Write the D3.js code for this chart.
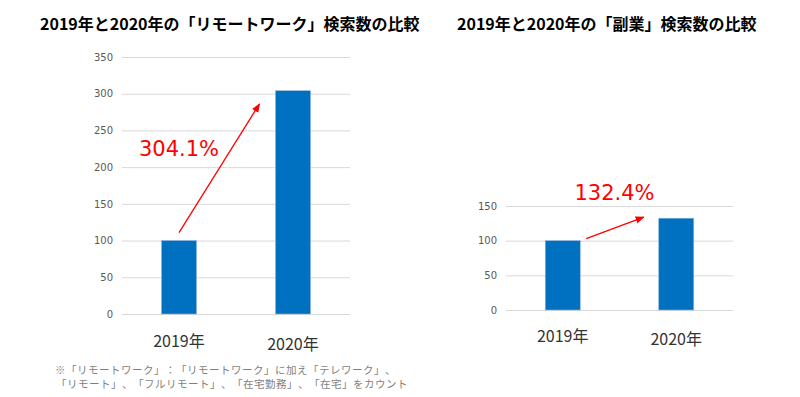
<!DOCTYPE html>
<html>
<head>
<meta charset="utf-8">
<script src="https://cdn.jsdelivr.net/npm/d3@7"></script>
<style>
  body { margin: 0; background: #fff; }
  svg { display: block; font-family: "Noto Sans CJK JP", "Noto Sans", sans-serif; }
  .note { text-spacing-trim: space-all; font-feature-settings: "palt" 0, "halt" 0; }
</style>
</head>
<body>
<svg id="chart" width="800" height="397"></svg>
<script>
const years = ["2019年", "2020年"]
const remoteValues = [100, 304.1]
const sideJobValues = [100, 132.4]
const remoteTicks = [0, 50, 100, 150, 200, 250, 300, 350]
const sideJobTicks = [0, 50, 100, 150]
const remoteLabel = "304.1%"
const sideJobLabel = "132.4%"
const footnote = [
    "※「リモートワーク」：「リモートワーク」に加え「テレワーク」、",
    "「リモート」、「フルリモート」、「在宅勤務」、「在宅」をカウント",
]

const BAR = "#0070c0"
const GRID = "#d9d9d9"
const RED = "#ff0000"

const svg = d3.select("#chart")

svg.append("defs").append("marker")
    .attr("id", "arrow")
    .attr("viewBox", "0 0 10 10")
    .attr("refX", 9).attr("refY", 5)
    .attr("markerWidth", 7).attr("markerHeight", 7)
    .attr("orient", "auto")
    .append("path")
    .attr("d", "M0,1 L10,5 L0,9 z")
    .attr("fill", RED)

function drawPanel(opts) {
    const { title, titleX, values, ticks, left, right, top, bottom, label } = opts
    const x = d3.scalePoint().domain(years).range([left, right]).padding(0.5)
    const y = d3.scaleLinear().domain([0, d3.max(ticks)]).range([bottom, top])
    const g = svg.append("g")

    g.append("text")
        .attr("x", titleX).attr("y", 30)
        .attr("font-size", 16).attr("font-weight", "bold")
        .attr("fill", "#000")
        .text(title)

    // gridlines + tick labels
    g.append("g")
        .attr("transform", `translate(${left},0)`)
        .call(d3.axisLeft(y).tickValues(ticks).tickSize(-(right - left)).tickPadding(9))
        .call((a) => a.select(".domain").remove())
        .call((a) => a.selectAll(".tick line").attr("stroke", GRID).attr("stroke-width", 1))
        .call((a) => a.selectAll(".tick text")
            .attr("fill", "#595959")
            .attr("font-size", 10)
            .attr("font-family", "'DejaVu Sans', sans-serif"))

    const barW = 35
    g.selectAll("rect.bar")
        .data(values)
        .join("rect")
        .attr("class", "bar")
        .attr("x", (d, i) => x(years[i]) - barW / 2)
        .attr("y", (d) => y(d))
        .attr("width", barW)
        .attr("height", (d) => y(0) - y(d))
        .attr("fill", BAR)
        .attr("stroke", "#8fb4de")
        .attr("stroke-width", 0.6)

    g.selectAll("text.year")
        .data(years)
        .join("text")
        .attr("class", "year")
        .attr("x", (d) => x(d))
        .attr("y", (d, i) => bottom + opts.yearDy + i * 2.5)
        .attr("text-anchor", "middle")
        .attr("font-size", 16)
        .attr("fill", "#333")
        .text((d) => d)

    const a = opts.arrow(x, y, barW)
    g.append("line")
        .attr("x1", a[0]).attr("y1", a[1])
        .attr("x2", a[2]).attr("y2", a[3])
        .attr("stroke", RED).attr("stroke-width", 1.3)
        .attr("marker-end", "url(#arrow)")

    const l = opts.labelPos(x, y)
    g.append("text")
        .attr("x", l[0]).attr("y", l[1])
        .attr("text-anchor", "middle")
        .attr("font-size", 21)
        .attr("fill", RED)
        .attr("font-family", "'DejaVu Sans', sans-serif")
        .text(label)
}

drawPanel({
    title: "2019年と2020年の「リモートワーク」検索数の比較",
    titleX: 40,
    values: remoteValues,
    ticks: remoteTicks,
    left: 122, right: 350, top: 57, bottom: 314,
    yearDy: 33,
    label: remoteLabel,
    arrow: (x, y, w) => [x(years[0]), y(remoteValues[0]) - 8, x(years[1]) - w / 2 - 16, y(286)],
    labelPos: (x, y) => [x(years[0]), y(215)],
})

drawPanel({
    title: "2019年と2020年の「副業」検索数の比較",
    titleX: 457,
    values: sideJobValues,
    ticks: sideJobTicks,
    left: 506, right: 733, top: 206, bottom: 310,
    yearDy: 32,
    label: sideJobLabel,
    arrow: (x, y, w) => [x(years[0]) + w / 2 + 6, y(sideJobValues[0]) - 2, x(years[1]) - w / 2 - 15, y(134)],
    labelPos: (x, y) => [(x(years[0]) + x(years[1])) / 2 - 5, y(158)],
})

svg.append("g")
    .selectAll("text")
    .data(footnote)
    .join("text")
    .attr("class", "note")
    .attr("x", (d, i) => 55 + i)
    .attr("y", (d, i) => 374 + i * 13.5)
    .attr("font-size", 10.5)
    .attr("letter-spacing", 0.5)
    .attr("fill", "#7f7f7f")
    .text((d) => d)
</script>
</body>
</html>
